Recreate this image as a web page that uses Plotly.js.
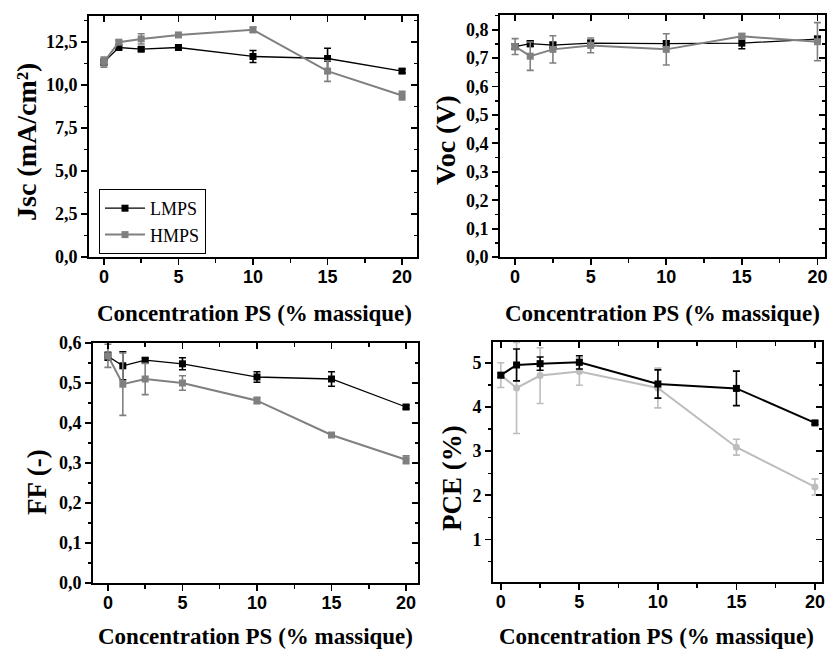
<!DOCTYPE html>
<html>
<head>
<meta charset="utf-8">
<script src="https://cdn.plot.ly/plotly-3.0.1.min.js"></script>
<style>html,body{margin:0;padding:0;background:#fff;}#chart{width:830px;height:649px;}</style>
</head>
<body>
<div id="chart"></div>
<script>
// ---- data ----
const conc = [0, 1, 2.5, 5, 10, 15, 20];
const seriesNames = ["LMPS", "HMPS"];

const jscL    = [11.32, 12.17, 12.07, 12.17, 11.65, 11.53, 10.80];
const jscLerr = [0.15, 0.12, 0.10, 0.07, 0.35, 0.60, 0.12];
const jscH    = [11.32, 12.48, 12.67, 12.90, 13.20, 10.80, 9.38];
const jscHerr = [0.29, 0.10, 0.30, 0.08, 0.15, 0.60, 0.25];

const vocL    = [0.741, 0.751, 0.746, 0.753, 0.751, 0.753, 0.767];
const vocLerr = [0.010, 0.010, 0.010, 0.010, 0.010, 0.020, 0.010];
const vocH    = [0.741, 0.707, 0.731, 0.745, 0.731, 0.777, 0.758];
const vocHerr = [0.028, 0.050, 0.048, 0.026, 0.055, 0.010, 0.067];

const ffL    = [0.567, 0.543, 0.557, 0.548, 0.515, 0.510, 0.440];
const ffLerr = [0.010, 0.035, 0.005, 0.015, 0.013, 0.018, 0.004];
const ffH    = [0.568, 0.497, 0.510, 0.500, 0.456, 0.370, 0.308];
const ffHerr = [0.029, 0.078, 0.039, 0.018, 0.008, 0.004, 0.010];

const pceL    = [4.72, 4.95, 4.98, 5.01, 4.52, 4.42, 3.64];
const pceLerr = [0.05, 0.36, 0.15, 0.15, 0.32, 0.39, 0.03];
const pceH    = [4.72, 4.43, 4.71, 4.80, 4.43, 3.09, 2.19];
const pceHerr = [0.28, 1.03, 0.63, 0.31, 0.45, 0.18, 0.18];

const xTitle = "Concentration PS (% massique)";
const yTitles = ["Jsc (mA/cm²)", "Voc (V)", "FF (-)", "PCE (%)"];

// ---- styling ----
const SERIF = "Liberation Serif, Times New Roman, serif";
const SANS = "Liberation Sans, Arial, sans-serif";
const BLACK = "#000000", GRAY = "#808080", LIGHT = "#bdbdbd";

function tr(y, err, name, color, symbol, ax, show, lw) {
  return {
    x: conc, y: y, name: name, type: "scatter", mode: "lines+markers",
    xaxis: "x" + ax, yaxis: "y" + ax, showlegend: show,
    line: {color: color, width: lw},
    marker: {color: color, symbol: symbol, size: 7},
    error_y: {type: "data", array: err, visible: true, color: color, thickness: 1.6, width: 3.5},
    hoverinfo: "x+y"
  };
}

const data = [
  tr(jscL, jscLerr, seriesNames[0], BLACK, "square", "", true, 1.3),
  tr(jscH, jscHerr, seriesNames[1], GRAY, "square", "", true, 2),
  tr(vocL, vocLerr, seriesNames[0], BLACK, "square", "2", false, 1.3),
  tr(vocH, vocHerr, seriesNames[1], GRAY, "square", "2", false, 2),
  tr(ffL, ffLerr, seriesNames[0], BLACK, "square", "3", false, 1.3),
  tr(ffH, ffHerr, seriesNames[1], GRAY, "square", "3", false, 2),
  tr(pceH, pceHerr, seriesNames[1], LIGHT, "circle", "4", false, 2),
  tr(pceL, pceLerr, seriesNames[0], BLACK, "square", "4", false, 2)
];
// dummy traces for the inward-tick mirror axes
for (let i = 5; i <= 8; i++) {
  data.push({x: [null], y: [null], xaxis: "x" + i, yaxis: "y" + i, type: "scatter",
             mode: "markers", showlegend: false, hoverinfo: "skip"});
}

const panels = [
  {xd: [89, 417], yd: [16, 257], xr: [-1, 21], yr: [0, 14], ydt: 2.5, ymin: 1.25, yfmt: ".1f"},
  {xd: [500, 825], yd: [15, 257], xr: [-1, 20.5], yr: [0, 0.852], ydt: 0.1, ymin: 0.05, yfmt: ".1f"},
  {xd: [93, 418], yd: [343, 583], xr: [-1, 20.8], yr: [0, 0.6], ydt: 0.1, ymin: 0.05, yfmt: ".1f"},
  {xd: [493, 822], yd: [342, 582], xr: [-0.5, 20.45], yr: [0.04, 5.47], ydt: 1, ymin: 0.5, yfmt: "d"}
];
const W = 830, H = 649;

const layout = {
  width: W, height: H,
  margin: {l: 0, r: 0, t: 0, b: 0},
  paper_bgcolor: "#fff", plot_bgcolor: "#fff",
  separators: ", ",
  showlegend: true,
  legend: {
    x: 99 / W, y: 1 - 189 / H, xanchor: "left", yanchor: "top",
    bgcolor: "#fff", bordercolor: "#000", borderwidth: 1,
    font: {family: SERIF, size: 18, color: "#000"},
    tracegroupgap: 0, itemwidth: 40
  },
  annotations: []
};

panels.forEach((p, i) => {
  const n = i === 0 ? "" : String(i + 1);
  const m = String(i + 5);
  const xdom = [p.xd[0] / W, p.xd[1] / W];
  const ydom = [1 - p.yd[1] / H, 1 - p.yd[0] / H];
  layout["xaxis" + n] = {
    domain: xdom, range: p.xr, anchor: "y" + n,
    showline: true, linecolor: "#000", linewidth: 2, mirror: true,
    showgrid: false, zeroline: false,
    ticks: "outside", ticklen: 6, tickwidth: 1.8, tickcolor: "#000",
    tick0: 0, dtick: 5, ticklabelstandoff: -4, ticklabeloverflow: "allow",
    minor: {ticks: "outside", ticklen: 3.5, tickwidth: 1.5, tickcolor: "#000", dtick: 2.5, tick0: 0, showgrid: false},
    tickfont: {family: SANS, size: 18, color: "#000", weight: 700},
    fixedrange: true
  };
  layout["yaxis" + n] = {
    domain: ydom, range: p.yr, anchor: "x" + n,
    showline: true, linecolor: "#000", linewidth: 2, mirror: true,
    showgrid: false, zeroline: false,
    ticks: "outside", ticklen: 6, tickwidth: 1.8, tickcolor: "#000",
    tick0: 0, dtick: p.ydt, tickformat: p.yfmt, ticklabeloverflow: "allow",
    minor: {ticks: "outside", ticklen: 3.5, tickwidth: 1.5, tickcolor: "#000", dtick: p.ymin, tick0: 0, showgrid: false},
    tickfont: {family: SERIF, size: 18, color: "#000", weight: 700},
    fixedrange: true
  };
  // mirror axes with inward ticks
  layout["xaxis" + m] = {
    overlaying: "x" + n, side: "top", anchor: "y" + n, range: p.xr,
    showline: false, showgrid: false, zeroline: false, showticklabels: false,
    ticks: "inside", ticklen: 6, tickwidth: 1.8, tickcolor: "#000", tick0: 0, dtick: 5,
    minor: {ticks: "inside", ticklen: 3.5, tickwidth: 1.5, tickcolor: "#000", dtick: 2.5, tick0: 0, showgrid: false},
    fixedrange: true
  };
  layout["yaxis" + m] = {
    overlaying: "y" + n, side: "right", anchor: "x" + n, range: p.yr,
    showline: false, showgrid: false, zeroline: false, showticklabels: false,
    ticks: "inside", ticklen: 6, tickwidth: 1.8, tickcolor: "#000", tick0: 0, dtick: p.ydt,
    minor: {ticks: "inside", ticklen: 3.5, tickwidth: 1.5, tickcolor: "#000", dtick: p.ymin, tick0: 0, showgrid: false},
    fixedrange: true
  };
});

// axis titles (placed as annotations in paper coordinates)
const xTitlePos = [[254, 313], [662, 313], [255, 636], [656, 636]];
const yTitlePos = [[26, 142], [446, 140], [37, 482], [452, 478]];
const yTitleSize = [28, 28, 27, 27];
xTitlePos.forEach(([x, y]) => {
  layout.annotations.push({
    text: "<b>" + xTitle + "</b>", x: x / W, y: 1 - y / H, xref: "paper", yref: "paper",
    xanchor: "center", yanchor: "middle", showarrow: false,
    font: {family: SERIF, size: 23, color: "#000"}
  });
});
yTitlePos.forEach(([x, y], i) => {
  layout.annotations.push({
    text: "<b>" + yTitles[i] + "</b>", x: x / W, y: 1 - y / H, xref: "paper", yref: "paper",
    xanchor: "center", yanchor: "middle", showarrow: false, textangle: -90,
    font: {family: SERIF, size: yTitleSize[i], color: "#000"}
  });
});

Plotly.newPlot("chart", data, layout, {displayModeBar: false, staticPlot: true});
</script>
</body>
</html>
